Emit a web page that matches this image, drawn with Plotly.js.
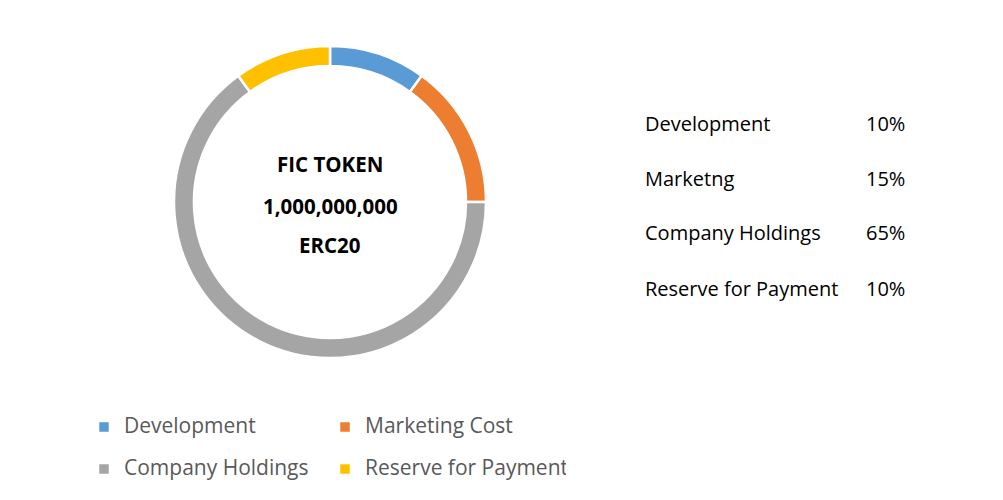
<!DOCTYPE html>
<html>
<head>
<meta charset="utf-8">
<script src="https://cdn.plot.ly/plotly-3.0.1.min.js"></script>
<style>html,body{margin:0;padding:0;background:#fff;}#chart{width:1003px;height:500px;}</style>
</head>
<body>
<div id="chart"></div>
<script>
// Data
const sliceLabels = ["Development", "Marketing Cost", "Company Holdings", "Reserve for Payment"];
const sliceValues = [10, 15, 65, 10];
const sliceColors = ["#5B9BD5", "#ED7D31", "#A5A5A5", "#FFC000"];
const tableLabels = ["Development", "Marketng", "Company Holdings", "Reserve for Payment"];
const tablePercents = ["10%", "15%", "65%", "10%"];
const centerLines = ["FIC TOKEN", "1,000,000,000", "ERC20"];

const W = 600, H = 500; // plot area (margins l=0, r=403)
const px = x => x / W;
const py = y => 1 - y / H;

const legendText = sliceLabels.map(s => '<span style="font-size:21px;baseline-shift:6px">' + s + '</span>');

const trace = {
  type: "pie",
  labels: legendText,
  values: sliceValues,
  sort: false,
  direction: "clockwise",
  rotation: 0,
  hole: 0.872,
  textinfo: "none",
  hoverinfo: "none",
  marker: { colors: sliceColors, line: { color: "#ffffff", width: 2.5 } },
  domain: { x: [px(174), px(486)], y: [py(358), py(46)] }
};

const annotations = [];
const centerY = [164, 206, 245];
centerLines.forEach((t, i) => annotations.push({
  xref: "paper", yref: "paper", x: px(330), y: py(centerY[i]),
  xanchor: "center", yanchor: "middle", showarrow: false, text: "<b>" + t + "</b>",
  font: { family: "Open Sans, sans-serif", size: 20.5, color: "#000000" }
}));
const rowY = [123, 178, 233, 288];
tableLabels.forEach((t, i) => {
  annotations.push({
    xref: "paper", yref: "paper", x: px(643), y: py(rowY[i]),
    xanchor: "left", yanchor: "middle", showarrow: false, text: t,
    font: { family: "Open Sans, sans-serif", size: 20, color: "#000000" }
  });
  annotations.push({
    xref: "paper", yref: "paper", x: px(907), y: py(rowY[i]),
    xanchor: "right", yanchor: "middle", showarrow: false, text: tablePercents[i],
    font: { family: "Open Sans, sans-serif", size: 20, color: "#000000" }
  });
});

const layout = {
  width: 1003, height: 500,
  margin: { l: 0, r: 403, t: 0, b: 0, pad: 0 },
  paper_bgcolor: "#ffffff", plot_bgcolor: "#ffffff",
  showlegend: true,
  legend: {
    orientation: "h", x: px(84), y: py(401), xanchor: "left", yanchor: "top",
    entrywidth: 196, entrywidthmode: "pixels",
    font: { family: "Open Sans, sans-serif", size: 30, color: "#595959" },
    bgcolor: "rgba(0,0,0,0)", traceorder: "normal"
  },
  annotations: annotations
};

Plotly.newPlot("chart", [trace], layout, { displayModeBar: false, staticPlot: true });
</script>
</body>
</html>
